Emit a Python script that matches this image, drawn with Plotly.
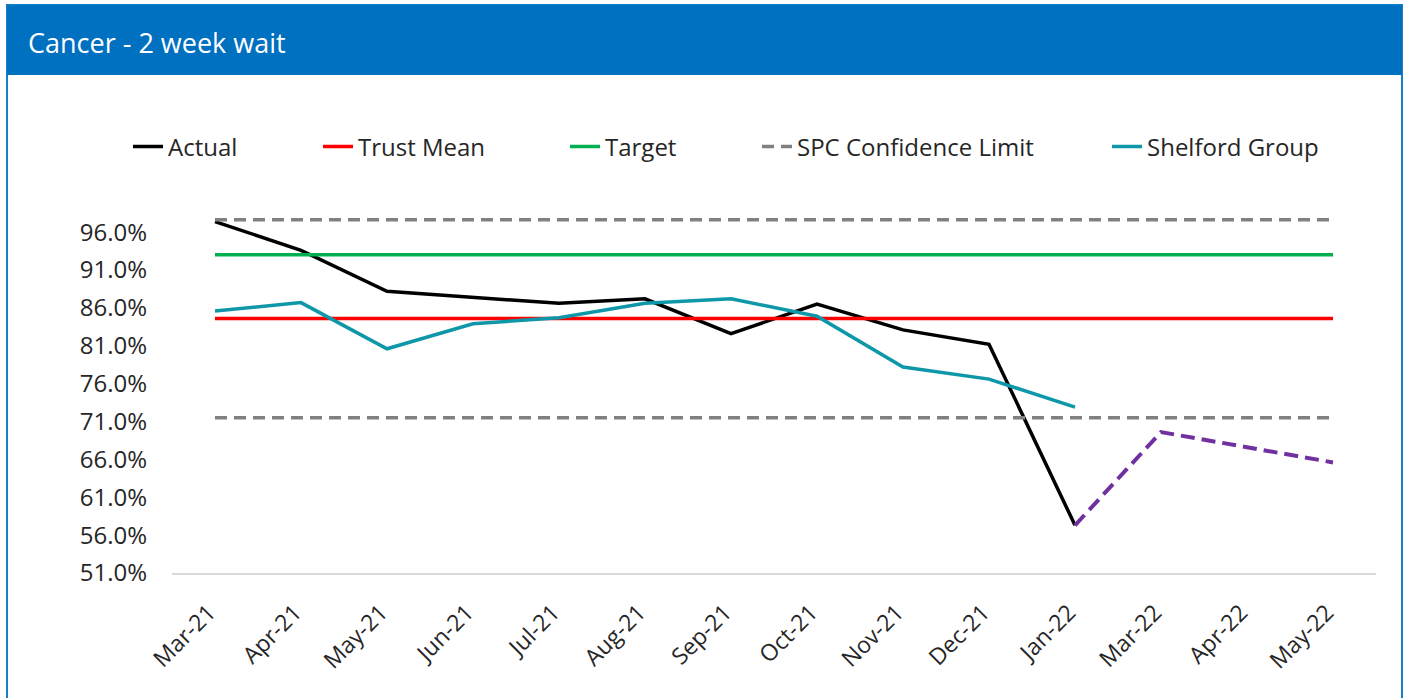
import plotly.graph_objects as go

# Months shown on the x axis (Feb-22 is absent in the source)
months = ["Mar-21", "Apr-21", "May-21", "Jun-21", "Jul-21", "Aug-21", "Sep-21",
          "Oct-21", "Nov-21", "Dec-21", "Jan-22", "Mar-22", "Apr-22", "May-22"]

actual_months = months[:11]
actual = [97.4, 93.6, 88.2, 87.4, 86.6, 87.2, 82.6, 86.5, 83.1, 81.2, 57.3]

forecast_months = ["Jan-22", "Mar-22", "Apr-22", "May-22"]
forecast = [57.3, 69.6, 67.6, 65.6]

shelford_months = months[:11]
shelford = [85.6, 86.7, 80.6, 83.9, 84.7, 86.6, 87.2, 84.9, 78.2, 76.6, 72.9]

trust_mean = 84.6
target = 93.0
spc_upper = 97.65
spc_lower = 71.5

# plot area in page pixels, used to place header / border / legend
L, R, T, B = 172, 1376, 217, 573
W, H = 1404, 698


def px(x):
    return (x - L) / (R - L)


def py(y):
    return (B - y) / (B - T)


FONT = "Open Sans"
BLUE = "#0070C0"
TXT = "#262626"

fig = go.Figure()

fig.add_trace(go.Scatter(x=actual_months, y=actual, name="Actual", mode="lines",
                         legend="legend",
                         line=dict(color="black", width=3.5)))
fig.add_trace(go.Scatter(x=forecast_months, y=forecast, name="Forecast", mode="lines",
                         showlegend=False,
                         line=dict(color="#7030A0", width=4, dash="14px,7px")))
fig.add_trace(go.Scatter(x=months, y=[trust_mean] * len(months), name="Trust Mean",
                         mode="lines", legend="legend2",
                         line=dict(color="#FF0000", width=3.5)))
fig.add_trace(go.Scatter(x=months, y=[target] * len(months), name="Target",
                         mode="lines", legend="legend3",
                         line=dict(color="#00B050", width=3.5)))
fig.add_trace(go.Scatter(x=months, y=[spc_upper] * len(months), name="SPC Confidence Limit",
                         mode="lines", legend="legend4",
                         line=dict(color="#808080", width=3.5, dash="12px,7px")))
fig.add_trace(go.Scatter(x=months, y=[spc_lower] * len(months), name="SPC Confidence Limit",
                         mode="lines", showlegend=False,
                         line=dict(color="#808080", width=3.5, dash="12px,7px")))
fig.add_trace(go.Scatter(x=shelford_months, y=shelford, name="Shelford Group",
                         mode="lines", legend="legend5",
                         line=dict(color="#0E97A8", width=3.5)))

shapes = [
    # outer frame
    dict(type="rect", xref="paper", yref="paper",
         x0=px(7), x1=px(1402), y0=py(5), y1=py(H + 10),
         line=dict(color="#1580CC", width=2), fillcolor="rgba(0,0,0,0)"),
    # header band
    dict(type="rect", xref="paper", yref="paper",
         x0=px(7), x1=px(1402), y0=py(5), y1=py(75),
         line=dict(width=0), fillcolor=BLUE),
]

# legend entries laid out like the source (text start x positions)
legend_text_x = [168, 358, 605, 797, 1147]
legends = {}
for i, tx in enumerate(legend_text_x):
    key = "legend" if i == 0 else f"legend{i + 1}"
    legends[key] = dict(x=px(tx - 40), xanchor="left", y=py(147), yanchor="middle",
                        orientation="h", bgcolor="rgba(0,0,0,0)",
                        font=dict(family=FONT, size=24, color=TXT))

fig.update_layout(
    width=W, height=H,
    margin=dict(l=L, r=W - R, t=T, b=H - B),
    paper_bgcolor="white", plot_bgcolor="white",
    font=dict(family=FONT, color=TXT, size=24),
    shapes=shapes,
    annotations=[dict(text="Cancer - 2 week wait", xref="paper", yref="paper",
                      x=px(26), y=py(42), xanchor="left", yanchor="middle",
                      showarrow=False, font=dict(family=FONT, size=27, color="white"))],
    showlegend=True,
    **legends,
)

fig.update_xaxes(type="category", categoryorder="array", categoryarray=months,
                 range=[-0.5, len(months) - 0.5],
                 showgrid=False, zeroline=False, showline=True,
                 linecolor="#D9D9D9", linewidth=2, ticks="",
                 tickangle=-45, tickfont=dict(size=23, color=TXT),
                 ticklabelshift=-6, ticklabelstandoff=15)
fig.update_yaxes(range=[51, 98], tick0=51, dtick=5, tickformat=".1f", ticksuffix="%",
                 showgrid=False, zeroline=False, showline=False, ticks="",
                 tickfont=dict(size=24, color=TXT), ticklabelstandoff=24)

# drop the browser's default page margin so the chart sits at the window origin
fig.write_html("out.html", config={"displayModeBar": False},
               post_script="document.body.style.margin='0px';")
